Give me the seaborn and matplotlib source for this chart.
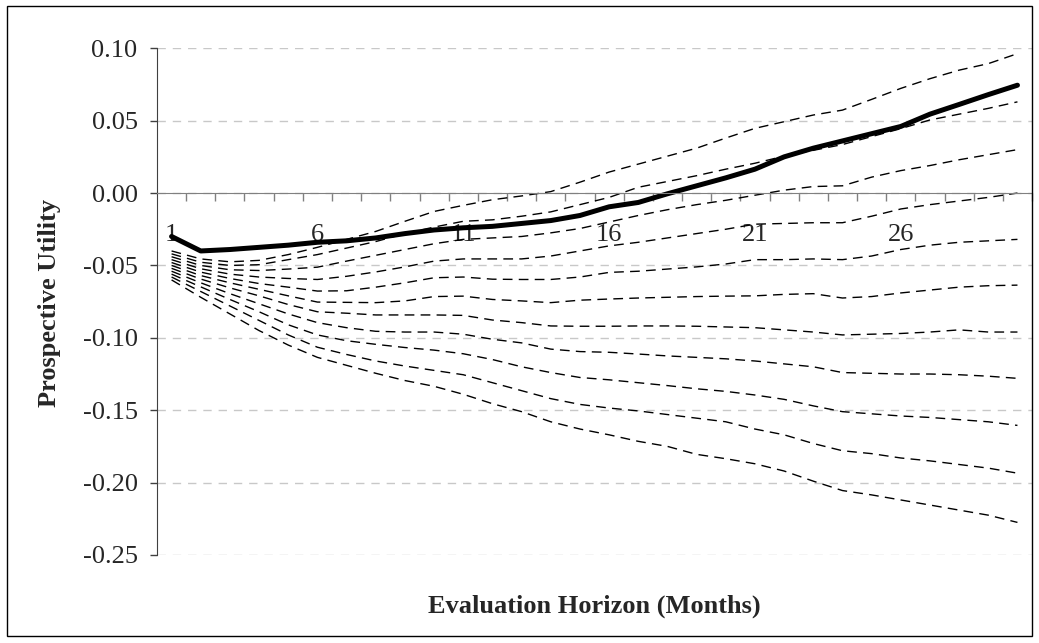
import matplotlib
matplotlib.use("Agg")
import numpy as np
import pandas as pd
import matplotlib.pyplot as plt
import matplotlib.ticker as mticker
from matplotlib.patches import Rectangle
import seaborn as sns

# evaluation horizons (months) and prospective utility per curve
horizon = list(range(1, 31))
tick_months = [1, 6, 11, 16, 21, 26]

base_case = [-0.030, -0.040, -0.039, -0.0375, -0.036, -0.034, -0.033, -0.031, -0.028, -0.0255,
             -0.024, -0.023, -0.021, -0.019, -0.0155, -0.0095, -0.0065, -0.0005, 0.005, 0.0105,
             0.0165, 0.025, 0.031, 0.036, 0.041, 0.046, 0.0545, 0.0612, 0.068, 0.0745]

curve_1 = [-0.040, -0.0455, -0.0475, -0.0465, -0.0425, -0.0375, -0.032, -0.0265, -0.0195, -0.0127,
           -0.0085, -0.0046, -0.002, 0.001, 0.0075, 0.0145, 0.020, 0.0255, 0.031, 0.038,
           0.0447, 0.0493, 0.0539, 0.0573, 0.0647, 0.0723, 0.079, 0.0849, 0.0894, 0.0963]
curve_2 = [-0.042, -0.0478, -0.050, -0.0495, -0.046, -0.0425, -0.038, -0.0335, -0.028, -0.0235,
           -0.0195, -0.0185, -0.016, -0.013, -0.008, -0.003, 0.004, 0.008, 0.012, 0.0165,
           0.0206, 0.0255, 0.0295, 0.0335, 0.039, 0.0445, 0.0505, 0.0545, 0.0585, 0.063]
curve_3 = [-0.044, -0.050, -0.053, -0.0535, -0.0525, -0.0512, -0.047, -0.043, -0.039, -0.035,
           -0.032, -0.031, -0.030, -0.0275, -0.0245, -0.020, -0.0155, -0.0115, -0.008, -0.005,
           -0.0015, 0.002, 0.0045, 0.005, 0.011, 0.0155, 0.019, 0.023, 0.0265, 0.030]
curve_4 = [-0.046, -0.0523, -0.056, -0.058, -0.059, -0.0597, -0.0575, -0.0545, -0.051, -0.047,
           -0.0455, -0.0455, -0.0455, -0.0435, -0.040, -0.0365, -0.034, -0.031, -0.028, -0.025,
           -0.0215, -0.021, -0.0205, -0.0205, -0.016, -0.011, -0.008, -0.0055, -0.003, 0.000]
curve_5 = [-0.048, -0.0546, -0.059, -0.0625, -0.065, -0.0677, -0.0675, -0.065, -0.062, -0.0585,
           -0.058, -0.0595, -0.0597, -0.0597, -0.058, -0.0548, -0.054, -0.0525, -0.051, -0.049,
           -0.046, -0.046, -0.0455, -0.046, -0.0435, -0.039, -0.036, -0.034, -0.033, -0.032]
curve_6 = [-0.050, -0.057, -0.062, -0.0665, -0.071, -0.0753, -0.0755, -0.0757, -0.0745, -0.0715,
           -0.0712, -0.0735, -0.0745, -0.0757, -0.074, -0.0732, -0.0725, -0.072, -0.0715, -0.0712,
           -0.071, -0.070, -0.0695, -0.0725, -0.0715, -0.069, -0.067, -0.065, -0.064, -0.0636]
curve_7 = [-0.052, -0.0594, -0.0655, -0.071, -0.077, -0.082, -0.083, -0.0842, -0.0842, -0.0842,
           -0.0845, -0.0877, -0.0895, -0.0918, -0.092, -0.092, -0.0918, -0.0918, -0.092, -0.0925,
           -0.093, -0.0945, -0.096, -0.098, -0.0975, -0.097, -0.096, -0.0945, -0.096, -0.096]
curve_8 = [-0.054, -0.062, -0.0695, -0.0765, -0.0835, -0.0895, -0.093, -0.0955, -0.096, -0.096,
           -0.0975, -0.101, -0.1035, -0.1078, -0.1095, -0.110, -0.1112, -0.1125, -0.1135, -0.1145,
           -0.116, -0.118, -0.120, -0.124, -0.1245, -0.125, -0.125, -0.1255, -0.1265, -0.128]
curve_9 = [-0.056, -0.0648, -0.0735, -0.082, -0.091, -0.098, -0.102, -0.1045, -0.1067, -0.1085,
           -0.111, -0.115, -0.120, -0.124, -0.1274, -0.129, -0.131, -0.133, -0.1352, -0.137,
           -0.1395, -0.1425, -0.147, -0.151, -0.1525, -0.154, -0.155, -0.1565, -0.158, -0.1605]
curve_10 = [-0.058, -0.068, -0.078, -0.088, -0.098, -0.1065, -0.1115, -0.116, -0.1195, -0.1225,
            -0.1255, -0.131, -0.1365, -0.142, -0.146, -0.1485, -0.1505, -0.153, -0.1555, -0.158,
            -0.163, -0.167, -0.173, -0.178, -0.180, -0.183, -0.185, -0.1875, -0.190, -0.1935]
curve_11 = [-0.060, -0.072, -0.0835, -0.095, -0.105, -0.1135, -0.119, -0.1245, -0.1295, -0.1335,
            -0.139, -0.1455, -0.151, -0.158, -0.163, -0.167, -0.1715, -0.175, -0.1805, -0.1835,
            -0.187, -0.192, -0.199, -0.2055, -0.2085, -0.212, -0.2155, -0.219, -0.2225, -0.2275]

dashed_curves = [curve_1, curve_2, curve_3, curve_4, curve_5, curve_6,
                 curve_7, curve_8, curve_9, curve_10, curve_11]

y_ticks = [-0.25, -0.20, -0.15, -0.10, -0.05, 0.00, 0.05, 0.10]

# long form table for seaborn
rows = []
for k, vals in enumerate(dashed_curves):
    for h, v in zip(horizon, vals):
        rows.append({"horizon": h, "utility": v, "curve": k})
dashed_df = pd.DataFrame(rows)
base_df = pd.DataFrame({"horizon": horizon, "utility": base_case})

sns.set_style("white")
plt.rcParams["font.family"] = ["Liberation Serif", "DejaVu Serif"]

fig = plt.figure(figsize=(10.39, 6.43), dpi=100)
ax = fig.add_axes([0.1511, 0.1369, 0.8422, 0.788])

sns.lineplot(data=dashed_df, x="horizon", y="utility", units="curve", estimator=None,
             color="black", lw=1.0, linestyle=(0, (7, 4.5)), ax=ax)
sns.lineplot(data=base_df, x="horizon", y="utility", color="black", lw=3.6,
             solid_capstyle="round", ax=ax)

ax.set_xlim(0.5, 30.5)
ax.set_ylim(-0.25, 0.10)

ax.set_yticks(y_ticks)
ax.yaxis.set_major_formatter(mticker.FuncFormatter(lambda v, p: "%.2f" % (round(v, 2) + 0.0)))
ax.yaxis.grid(True, color="#c8c8c8", linestyle=(0, (6, 5)), lw=1)
ax.xaxis.grid(False)
ax.set_axisbelow(True)

ax.set_xticks(tick_months)
ax.set_xticklabels([str(m) for m in tick_months])
ax.set_xticks(np.arange(1.5, 31, 1), minor=True)
ax.tick_params(axis="x", which="both", bottom=True)
ax.tick_params(axis="x", which="major", length=0, pad=22, labelsize=19)
ax.tick_params(axis="x", which="minor", length=6, width=1, direction="out", color="#808080")
ax.tick_params(axis="y", left=True, length=5, width=1, direction="out", pad=9, labelsize=19,
               color="#404040")

ax.spines["bottom"].set_position(("data", 0))
ax.spines["bottom"].set_color("#808080")
ax.spines["left"].set_color("#404040")
for s in ["top", "right"]:
    ax.spines[s].set_visible(False)

ax.set_xlabel("")
ax.set_ylabel("")
fig.text(50 / 1039, 1 - 303 / 643, "Prospective Utility", rotation=90, ha="center",
         va="center", fontsize=19, fontweight="bold")
fig.text(594.5 / 1039, 1 - 606 / 643, "Evaluation Horizon (Months)", ha="center",
         va="center", fontsize=19, fontweight="bold")

fig.patches.append(Rectangle((7 / 1039, 1 - 636 / 643), 1025 / 1039, 630 / 643, fill=False,
                             edgecolor="black", lw=1, transform=fig.transFigure))

fig.savefig("out.png", dpi=100)
